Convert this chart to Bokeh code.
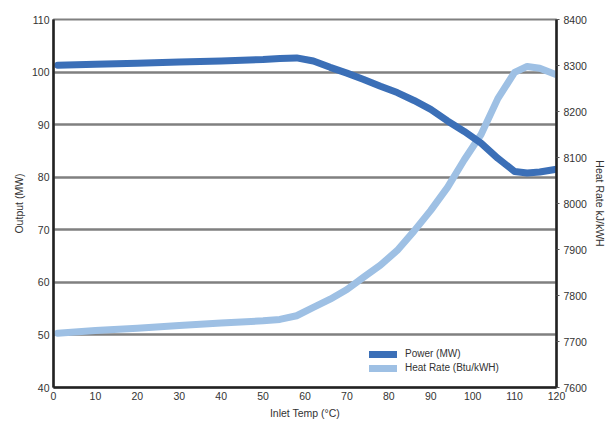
from bokeh.plotting import figure
from bokeh.models import Range1d, LinearAxis, Legend, LegendItem, FixedTicker, ColumnDataSource
from bokeh.embed import file_html
from bokeh.resources import INLINE

temps = [1, 10, 20, 30, 40, 50, 54, 58, 62, 66, 70, 74, 78, 82, 86, 90, 94, 98, 102, 106,
         110, 113, 116, 120]
power_mw = [101.3, 101.5, 101.7, 101.9, 102.1, 102.4, 102.6, 102.7, 102.1, 100.9, 99.8, 98.6,
            97.3, 96.1, 94.6, 92.9, 90.7, 88.7, 86.5, 83.6, 81.1, 80.8, 81.0, 81.5]
heat_rate = [7718, 7724, 7729, 7735, 7740, 7745, 7748, 7756, 7774, 7792, 7813, 7840, 7866, 7898,
             7940, 7985, 8035, 8095, 8150, 8228, 8285, 8298, 8294, 8280]

x_ticks = list(range(0, 121, 10))
left_ticks = list(range(40, 111, 10))
right_ticks = list(range(7600, 8401, 100))

FONT = "Liberation Sans"
TXT = "#333333"

src = ColumnDataSource(dict(t=temps, p=power_mw, h=heat_rate))

p = figure(width=608, height=426, output_backend="svg", toolbar_location=None,
           x_range=Range1d(0, 120), y_range=Range1d(40, 110),
           min_border_left=53, min_border_right=51, min_border_top=19, min_border_bottom=39)
p.extra_y_ranges = {"hr": Range1d(7600, 8400)}

p.outline_line_color = "#808080"
p.outline_line_width = 2
p.xgrid.visible = False
p.ygrid.ticker = FixedTicker(ticks=left_ticks)
p.ygrid.grid_line_color = "#808080"
p.ygrid.grid_line_width = 2.5

p.xaxis.ticker = FixedTicker(ticks=x_ticks)
p.yaxis.ticker = FixedTicker(ticks=left_ticks)
p.xaxis.axis_label = "Inlet Temp (°C)"
p.yaxis.axis_label = "Output (MW)"

r_axis = LinearAxis(y_range_name="hr", ticker=FixedTicker(ticks=right_ticks),
                    axis_label="Heat Rate kJ/kWH")
p.add_layout(r_axis, "right")

for ax in [p.xaxis[0], p.yaxis[0], r_axis]:
    ax.axis_line_color = "#222222"
    ax.axis_line_width = 2.5
    ax.major_tick_in = 0
    ax.minor_tick_line_color = None
    ax.major_label_text_font = FONT
    ax.major_label_text_font_size = "10.5px"
    ax.major_label_text_color = TXT
    ax.axis_label_text_font = FONT
    ax.axis_label_text_font_size = "10.5px"
    ax.axis_label_text_font_style = "normal"
    ax.axis_label_text_color = TXT
    ax.axis_label_standoff = 4
    ax.major_label_standoff = 4

p.xaxis.major_tick_out = 0
p.yaxis.major_tick_out = 0
r_axis.major_tick_out = 3
r_axis.major_tick_line_color = "#555555"
r_axis.axis_label_standoff = 4

r_hr = p.line("t", "h", source=src, y_range_name="hr", line_color="#9ec0e4", line_width=7,
              line_cap="round", line_join="round")
r_pw = p.line("t", "p", source=src, line_color="#3b6fb7", line_width=7,
              line_cap="round", line_join="round")

legend = Legend(items=[LegendItem(label="Power (MW)", renderers=[r_pw]),
                       LegendItem(label="Heat Rate (Btu/kWH)", renderers=[r_hr])],
                location=(316, 14), border_line_color=None, background_fill_alpha=0,
                label_text_font=FONT, label_text_font_size="10px", label_text_color=TXT,
                glyph_width=28, glyph_height=10, spacing=3, padding=4, label_standoff=8)
p.add_layout(legend, "center")

open("out.html", "w").write(file_html(p, INLINE))
